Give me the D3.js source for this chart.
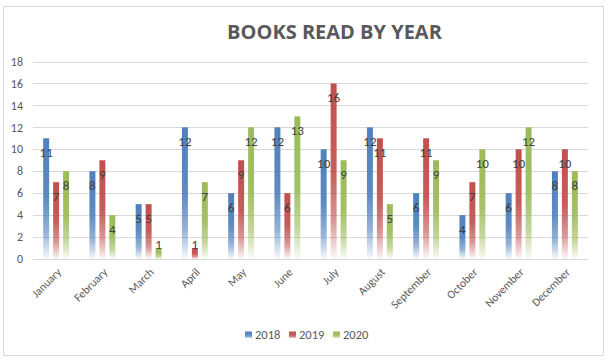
<!DOCTYPE html>
<html>
<head>
<meta charset="utf-8">
<script src="https://cdn.jsdelivr.net/npm/d3@7"></script>
<style>
  html, body { margin: 0; padding: 0; background: #ffffff; }
  svg { display: block; }
  .tick-label, .month-label, .legend-label { fill: #595959; font-family: Calibri, Carlito, Lato, sans-serif; }
  .data-label { fill: #404040; font-family: Calibri, Carlito, Lato, sans-serif; }
</style>
</head>
<body>
<div id="chart"></div>
<script>
// Books read per month, one array per year
const months = ['January', 'February', 'March', 'April', 'May', 'June',
                'July', 'August', 'September', 'October', 'November', 'December'];
const years = ['2018', '2019', '2020'];
const books2018 = [11, 8, 5, 12, 6, 12, 10, 12, 6, 4, 6, 8];
const books2019 = [7, 9, 5, 1, 9, 6, 16, 11, 11, 7, 10, 10];
const books2020 = [8, 4, 1, 7, 12, 13, 9, 5, 9, 10, 12, 8];
const yTicks = [0, 2, 4, 6, 8, 10, 12, 14, 16, 18];
const colors = ['#4F81BD', '#C0504D', '#9BBB59'];

const width = 610, height = 363;
const plot = { left: 33, right: 588, top: 61.5, bottom: 259 };

const svg = d3.select('#chart')
    .append('svg')
    .attr('width', width)
    .attr('height', height);

// Excel style vertical fade, solid top to almost white at the base
const defs = svg.append('defs');
colors.forEach((c, i) => {
    const grad = defs.append('linearGradient')
        .attr('id', 'fade' + i)
        .attr('x1', 0).attr('y1', 0)
        .attr('x2', 0).attr('y2', 1);
    [[0, 1], [0.5, 0.92], [0.78, 0.6], [1, 0.04]].forEach(([o, a]) => {
        grad.append('stop')
            .attr('offset', o)
            .attr('stop-color', c)
            .attr('stop-opacity', a);
    });
});

// Chart border
svg.append('rect')
    .attr('x', 3.5).attr('y', 6.5)
    .attr('width', 600).attr('height', 349)
    .attr('fill', '#ffffff')
    .attr('stroke', '#D9D9D9')
    .attr('stroke-width', 1);

// Title
svg.append('text')
    .attr('x', 334.5)
    .attr('y', 38.5)
    .attr('text-anchor', 'middle')
    .attr('fill', '#595959')
    .style('font-family', '"Open Sans", sans-serif')
    .style('font-weight', 'bold')
    .style('font-size', '20px')
    .text('BOOKS READ BY YEAR');

// Scales
const x0 = d3.scaleBand()
    .domain(months)
    .range([plot.left, plot.right])
    .paddingInner(0.44)
    .paddingOuter(0.22);

const x1 = d3.scaleBand()
    .domain(years)
    .range([0, x0.bandwidth()])
    .paddingInner(0.4);

const y = d3.scaleLinear()
    .domain([0, 18])
    .range([plot.bottom, plot.top]);

// Gridlines
svg.append('g')
    .selectAll('line')
    .data(yTicks)
    .enter()
    .append('line')
    .attr('x1', plot.left)
    .attr('x2', plot.right)
    .attr('y1', d => Math.round(y(d)) + 0.5)
    .attr('y2', d => Math.round(y(d)) + 0.5)
    .attr('stroke', '#D9D9D9')
    .attr('stroke-width', 1);

// Y tick labels
svg.append('g')
    .selectAll('text')
    .data(yTicks)
    .enter()
    .append('text')
    .attr('class', 'tick-label')
    .attr('x', 23)
    .attr('y', d => y(d))
    .attr('dy', '0.35em')
    .attr('text-anchor', 'end')
    .style('font-size', '12px')
    .text(d => d);

// Bars grouped by month
const series = [books2018, books2019, books2020];
const barData = [];
months.forEach((m, mi) => {
    years.forEach((yr, si) => {
        barData.push({ month: m, year: yr, series: si, value: series[si][mi] });
    });
});

const bars = svg.append('g');
bars.selectAll('rect')
    .data(barData)
    .enter()
    .append('rect')
    .attr('x', d => x0(d.month) + x1(d.year))
    .attr('y', d => y(d.value))
    .attr('width', x1.bandwidth())
    .attr('height', d => y(0) - y(d.value))
    .attr('fill', d => `url(#fade${d.series})`);

// Data labels, inside end (above the bar when it is too short)
bars.selectAll('.data-label')
    .data(barData)
    .enter()
    .append('text')
    .attr('class', 'data-label')
    .attr('x', d => x0(d.month) + x1(d.year) + x1.bandwidth() / 2)
    .attr('y', d => (y(0) - y(d.value) < 20) ? y(d.value) - 4 : y(d.value) + 14)
    .attr('dy', '0.35em')
    .attr('text-anchor', 'middle')
    .style('font-size', '13px')
    .text(d => d.value);

// Month labels, rotated
svg.append('g')
    .selectAll('text')
    .data(months)
    .enter()
    .append('text')
    .attr('class', 'month-label')
    .attr('transform', d => `translate(${x0(d) + x0.bandwidth() / 2 + 3}, ${plot.bottom + 11}) rotate(-45)`)
    .attr('text-anchor', 'end')
    .attr('dy', '0.35em')
    .style('font-size', '11.5px')
    .text(d => d);

// Legend
const legendX = [245, 289, 333];
const legend = svg.append('g')
    .selectAll('g')
    .data(years)
    .enter()
    .append('g')
    .attr('transform', (d, i) => `translate(${legendX[i]}, 335)`);

legend.append('rect')
    .attr('x', 0).attr('y', -3.5)
    .attr('width', 7).attr('height', 7)
    .attr('fill', (d, i) => `url(#fade${i})`);

legend.append('text')
    .attr('class', 'legend-label')
    .attr('x', 10)
    .attr('y', 0)
    .attr('dy', '0.35em')
    .style('font-size', '12.5px')
    .text(d => d);
</script>
</body>
</html>
